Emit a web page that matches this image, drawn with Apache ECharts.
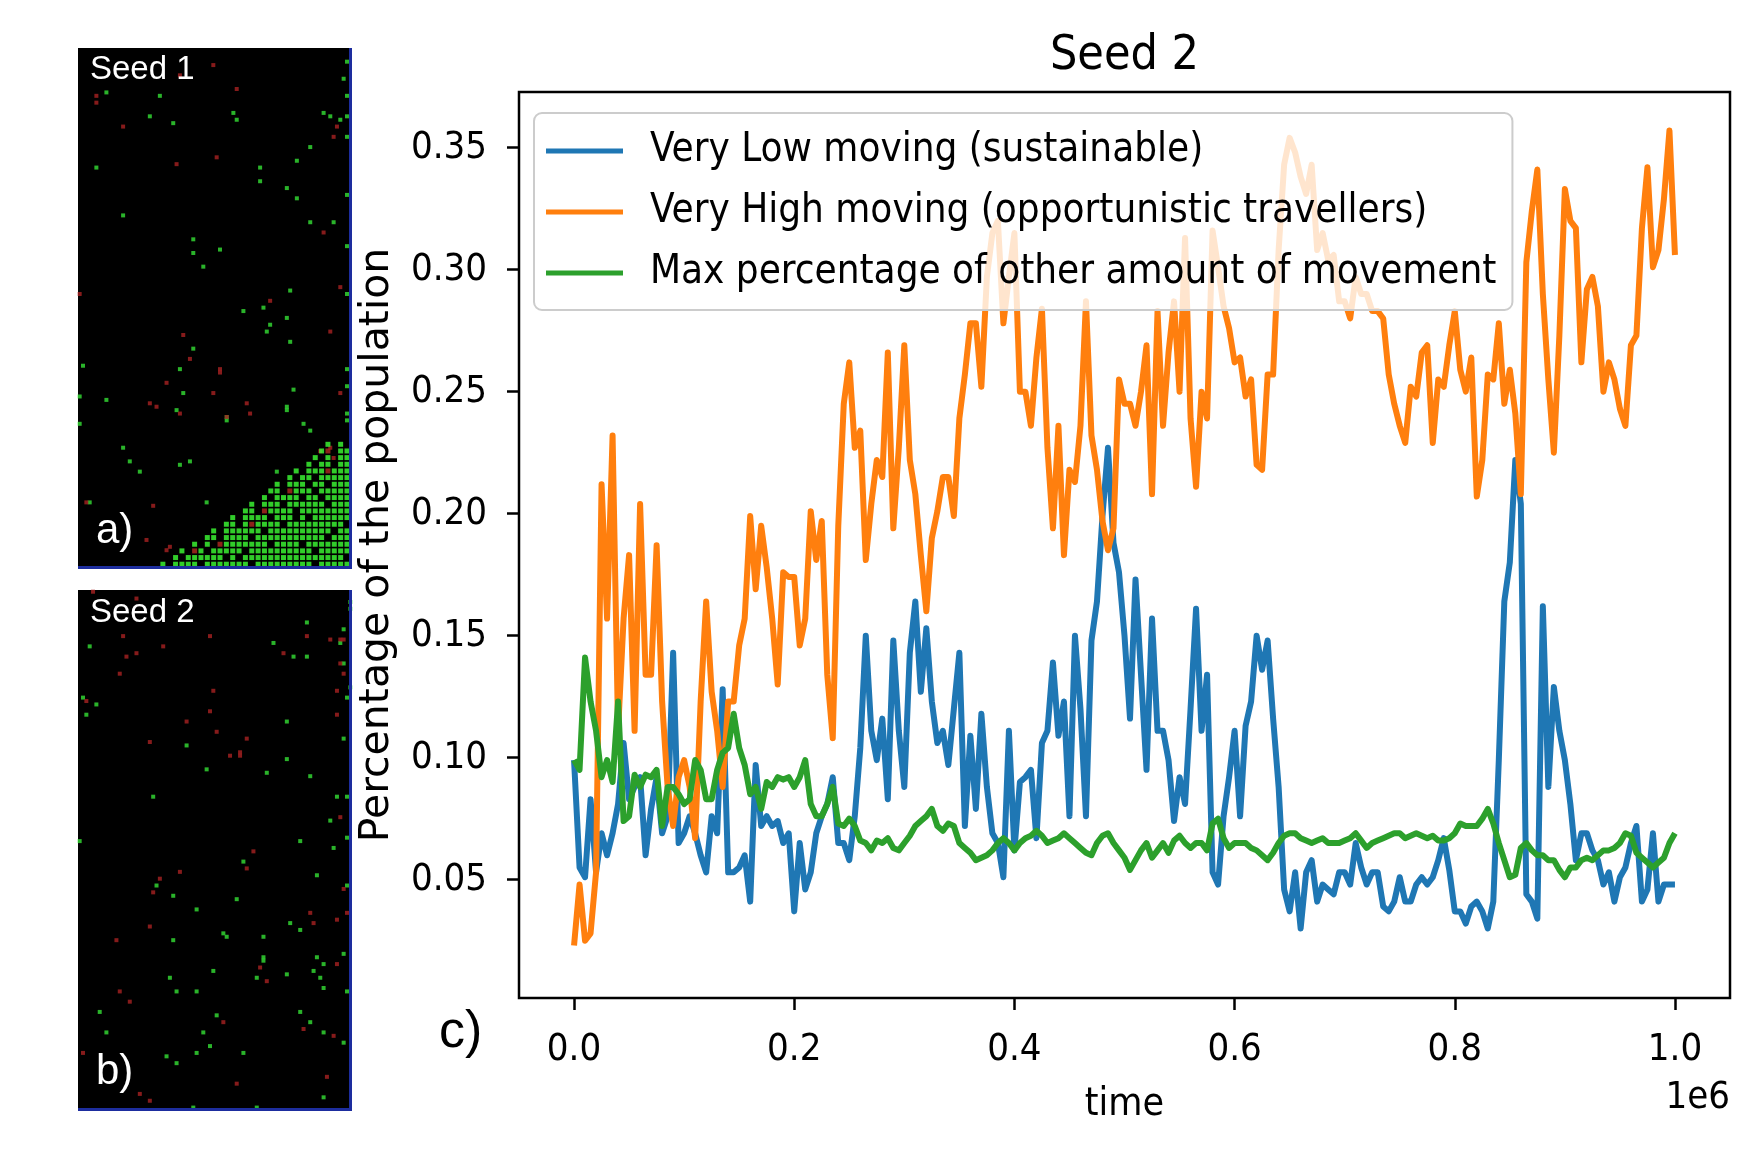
<!DOCTYPE html>
<html>
<head>
<meta charset="utf-8">
<title>Seed 2</title>
<script src="https://cdn.jsdelivr.net/npm/echarts@6/dist/echarts.min.js"></script>
<style>
    html, body { margin: 0; padding: 0; background: #fff; }
    #main { width: 1756px; height: 1155px; }
</style>
</head>
<body>
<div id="main"></div>
<script>
// time (in units of 1e6 steps)
var time = [
    0, 0.005, 0.01, 0.015, 0.02, 0.025, 0.03, 0.035, 0.04, 0.045,
    0.05, 0.055, 0.06, 0.065, 0.07, 0.075, 0.08, 0.085, 0.09, 0.095,
    0.1, 0.105, 0.11, 0.115, 0.12, 0.125, 0.13, 0.135, 0.14, 0.145,
    0.15, 0.155, 0.16, 0.165, 0.17, 0.175, 0.18, 0.185, 0.19, 0.195,
    0.2, 0.205, 0.21, 0.215, 0.22, 0.225, 0.23, 0.235, 0.24, 0.245,
    0.25, 0.255, 0.26, 0.265, 0.27, 0.275, 0.28, 0.285, 0.29, 0.295,
    0.3, 0.305, 0.31, 0.315, 0.32, 0.325, 0.33, 0.335, 0.34, 0.345,
    0.35, 0.355, 0.36, 0.365, 0.37, 0.375, 0.38, 0.385, 0.39, 0.395,
    0.4, 0.405, 0.41, 0.415, 0.42, 0.425, 0.43, 0.435, 0.44, 0.445,
    0.45, 0.455, 0.46, 0.465, 0.47, 0.475, 0.48, 0.485, 0.49, 0.495,
    0.5, 0.505, 0.51, 0.515, 0.52, 0.525, 0.53, 0.535, 0.54, 0.545,
    0.55, 0.555, 0.56, 0.565, 0.57, 0.575, 0.58, 0.585, 0.59, 0.595,
    0.6, 0.605, 0.61, 0.615, 0.62, 0.625, 0.63, 0.635, 0.64, 0.645,
    0.65, 0.655, 0.66, 0.665, 0.67, 0.675, 0.68, 0.685, 0.69, 0.695,
    0.7, 0.705, 0.71, 0.715, 0.72, 0.725, 0.73, 0.735, 0.74, 0.745,
    0.75, 0.755, 0.76, 0.765, 0.77, 0.775, 0.78, 0.785, 0.79, 0.795,
    0.8, 0.805, 0.81, 0.815, 0.82, 0.825, 0.83, 0.835, 0.84, 0.845,
    0.85, 0.855, 0.86, 0.865, 0.87, 0.875, 0.88, 0.885, 0.89, 0.895,
    0.9, 0.905, 0.91, 0.915, 0.92, 0.925, 0.93, 0.935, 0.94, 0.945,
    0.95, 0.955, 0.96, 0.965, 0.97, 0.975, 0.98, 0.985, 0.99, 0.995,
    1
];

// Very Low moving (sustainable)
var veryLow = [
    0.099, 0.055, 0.051, 0.083, 0.053, 0.069, 0.060, 0.069, 0.081, 0.106,
    0.083, 0.088, 0.092, 0.060, 0.079, 0.092, 0.069, 0.076, 0.143, 0.065,
    0.069, 0.076, 0.069, 0.060, 0.053, 0.076, 0.069, 0.128, 0.053, 0.053,
    0.055, 0.060, 0.041, 0.097, 0.072, 0.076, 0.072, 0.074, 0.065, 0.069,
    0.037, 0.065, 0.046, 0.053, 0.069, 0.076, 0.081, 0.092, 0.065, 0.065,
    0.058, 0.076, 0.104, 0.150, 0.111, 0.099, 0.116, 0.083, 0.148, 0.111,
    0.088, 0.143, 0.164, 0.127, 0.153, 0.123, 0.106, 0.111, 0.097, 0.120,
    0.143, 0.072, 0.109, 0.079, 0.118, 0.088, 0.069, 0.065, 0.051, 0.111,
    0.062, 0.090, 0.092, 0.095, 0.067, 0.106, 0.111, 0.139, 0.109, 0.123,
    0.076, 0.150, 0.120, 0.076, 0.148, 0.164, 0.199, 0.227, 0.188, 0.176,
    0.150, 0.116, 0.173, 0.134, 0.095, 0.157, 0.111, 0.111, 0.099, 0.074,
    0.092, 0.081, 0.120, 0.161, 0.111, 0.134, 0.053, 0.048, 0.076, 0.092,
    0.111, 0.076, 0.113, 0.123, 0.150, 0.136, 0.148, 0.116, 0.088, 0.046,
    0.037, 0.053, 0.030, 0.053, 0.058, 0.041, 0.048, 0.046, 0.044, 0.053,
    0.053, 0.048, 0.065, 0.055, 0.048, 0.053, 0.053, 0.039, 0.037, 0.041,
    0.051, 0.041, 0.041, 0.048, 0.051, 0.048, 0.051, 0.058, 0.067, 0.054,
    0.037, 0.037, 0.032, 0.039, 0.041, 0.037, 0.030, 0.041, 0.099, 0.164,
    0.180, 0.222, 0.204, 0.044, 0.041, 0.034, 0.162, 0.088, 0.129, 0.111,
    0.099, 0.081, 0.058, 0.069, 0.069, 0.062, 0.058, 0.048, 0.053, 0.041,
    0.051, 0.055, 0.065, 0.072, 0.041, 0.046, 0.069, 0.041, 0.048, 0.048,
    0.048
];

// Very High moving (opportunistic travellers)
var veryHigh = [
    0.023, 0.048, 0.025, 0.028, 0.053, 0.212, 0.157, 0.232, 0.111, 0.157,
    0.183, 0.111, 0.204, 0.134, 0.134, 0.187, 0.123, 0.088, 0.072, 0.092,
    0.099, 0.088, 0.067, 0.123, 0.164, 0.127, 0.111, 0.088, 0.123, 0.123,
    0.146, 0.157, 0.199, 0.169, 0.195, 0.178, 0.157, 0.130, 0.176, 0.174,
    0.174, 0.146, 0.157, 0.201, 0.181, 0.197, 0.134, 0.108, 0.195, 0.245,
    0.262, 0.227, 0.234, 0.181, 0.204, 0.222, 0.215, 0.266, 0.194, 0.227,
    0.269, 0.222, 0.208, 0.183, 0.160, 0.190, 0.201, 0.215, 0.215, 0.199,
    0.239, 0.257, 0.278, 0.278, 0.252, 0.297, 0.315, 0.320, 0.278, 0.297,
    0.315, 0.250, 0.250, 0.236, 0.264, 0.284, 0.227, 0.194, 0.236, 0.183,
    0.218, 0.213, 0.236, 0.287, 0.232, 0.218, 0.197, 0.185, 0.194, 0.255,
    0.245, 0.245, 0.236, 0.250, 0.269, 0.208, 0.283, 0.236, 0.266, 0.287,
    0.250, 0.313, 0.239, 0.211, 0.250, 0.239, 0.316, 0.301, 0.285, 0.276,
    0.262, 0.264, 0.248, 0.255, 0.220, 0.218, 0.257, 0.257, 0.308, 0.343,
    0.354, 0.348, 0.338, 0.331, 0.343, 0.308, 0.315, 0.304, 0.306, 0.287,
    0.287, 0.280, 0.297, 0.290, 0.290, 0.283, 0.283, 0.280, 0.257, 0.245,
    0.236, 0.229, 0.252, 0.248, 0.266, 0.269, 0.229, 0.255, 0.252, 0.269,
    0.283, 0.259, 0.250, 0.264, 0.207, 0.222, 0.257, 0.255, 0.278, 0.245,
    0.259, 0.241, 0.208, 0.303, 0.324, 0.341, 0.290, 0.255, 0.225, 0.273,
    0.333, 0.320, 0.317, 0.262, 0.292, 0.297, 0.285, 0.250, 0.262, 0.255,
    0.243, 0.236, 0.269, 0.273, 0.317, 0.342, 0.301, 0.308, 0.329, 0.357,
    0.306
];

// Max percentage of other amount of movement
var maxOther = [
    0.099, 0.095, 0.141, 0.123, 0.111, 0.092, 0.099, 0.090, 0.123, 0.074,
    0.076, 0.093, 0.088, 0.093, 0.092, 0.095, 0.072, 0.088, 0.088, 0.085,
    0.081, 0.083, 0.099, 0.095, 0.083, 0.083, 0.095, 0.102, 0.104, 0.118,
    0.104, 0.097, 0.085, 0.088, 0.079, 0.090, 0.088, 0.092, 0.091, 0.092,
    0.088, 0.092, 0.099, 0.081, 0.076, 0.076, 0.081, 0.088, 0.073, 0.072,
    0.075, 0.072, 0.066, 0.065, 0.062, 0.066, 0.065, 0.067, 0.063, 0.062,
    0.065, 0.068, 0.072, 0.074, 0.076, 0.079, 0.072, 0.070, 0.073, 0.072,
    0.065, 0.063, 0.061, 0.058, 0.059, 0.060, 0.062, 0.065, 0.067, 0.065,
    0.062, 0.065, 0.067, 0.068, 0.070, 0.068, 0.065, 0.066, 0.067, 0.069,
    0.067, 0.065, 0.063, 0.061, 0.060, 0.065, 0.068, 0.069, 0.065, 0.062,
    0.059, 0.054, 0.058, 0.062, 0.065, 0.059, 0.062, 0.065, 0.061, 0.066,
    0.068, 0.065, 0.063, 0.065, 0.065, 0.062, 0.073, 0.075, 0.067, 0.063,
    0.065, 0.065, 0.065, 0.063, 0.062, 0.060, 0.058, 0.061, 0.065, 0.068,
    0.069, 0.069, 0.067, 0.066, 0.065, 0.066, 0.067, 0.065, 0.065, 0.065,
    0.066, 0.067, 0.069, 0.066, 0.063, 0.065, 0.066, 0.067, 0.068, 0.069,
    0.069, 0.067, 0.068, 0.069, 0.068, 0.067, 0.068, 0.066, 0.066, 0.067,
    0.069, 0.073, 0.072, 0.072, 0.072, 0.075, 0.079, 0.073, 0.065, 0.058,
    0.051, 0.052, 0.063, 0.065, 0.062, 0.060, 0.060, 0.058, 0.058, 0.054,
    0.051, 0.055, 0.055, 0.058, 0.059, 0.058, 0.060, 0.062, 0.062, 0.063,
    0.065, 0.069, 0.068, 0.061, 0.059, 0.057, 0.055, 0.057, 0.059, 0.065,
    0.069
];

var seriesNames = [
    'Very Low moving (sustainable)',
    'Very High moving (opportunistic travellers)',
    'Max percentage of other amount of movement'
];
var seriesColors = ['#1f77b4', '#ff7f0e', '#2ca02c'];
var xTicks = [0, 0.2, 0.4, 0.6, 0.8, 1.0];
var yTicks = [0.05, 0.1, 0.15, 0.2, 0.25, 0.3, 0.35];

// snapshot panels: agent cells as [column, row] of the grid picture
var seed1Green = [[10,14],[26,15],[23,21],[30,23],[48,20],[49,22],[7,36],[15,50],[36,57],[36,61],[39,65],[44,60],
    [56,36],[56,40],[64,42],[67,45],[67,34],[71,30],[75,20],[77,21],[80,22],[81,10],[82,15],[71,52],[78,52],
    [65,72],[57,77],[51,78],[64,80],[59,82],[58,84],[65,87],[36,89],[32,95],[3,94],[33,102],[10,104],[31,107],
    [46,110],[46,109],[64,107],[64,106],[69,111],[71,113],[15,118],[17,122],[35,122],[32,123],[20,125],[40,134],
    [5,134],[61,125],[66,101],[2,103],[2,111],[82,73],[82,59],[82,44],[82,21],[82,27],[82,5],[82,100],[82,95],
    [82,110],[82,108]];
var seed1Red = [[7,15],[7,17],[15,24],[31,35],[43,33],[49,13],[42,6],[32,9],[75,55],[80,71],[77,84],[59,75],
    [33,85],[35,92],[44,95],[44,96],[28,99],[42,102],[23,105],[25,106],[52,105],[53,108],[46,109],[32,108],
    [2,73],[4,134],[24,135],[28,148],[29,147],[22,145],[80,102],[79,24],[78,27],[77,118],[74,119],[78,121]];
// dense colony in the lower right corner of seed 1 ('#' green, 'r' red)
var seed1Colony = [
    "..........................#.#.",
    ".........................#r.##",
    "........................#.#.##",
    ".......................#.##.##",
    ".....................#.###r###",
    "....................#.##.#####",
    "..................#.###.##.###",
    ".................##.r###.#####",
    "................#.####.##.####",
    "..............#.###.######.###",
    ".............##.r####.########",
    "...........#.####.###.#.######",
    "..........##.#r####.#########.",
    "........#.######.##########.##",
    ".......##.####.###########.###",
    ".....#.#.r#######.####.#######",
    "...#.r#.#####.##########.#####",
    "..#.######.#.################.",
    "#.####.#######.#########.#####"
];
var colonyOrigin = [26.9, 117];
var colonyStep = [1.9, 1.95];

var seed2Green = [[5,18],[3,33],[4,38],[7,35],[34,47],[40,54],[24,62],[60,17],[66,21],[70,21],[70,11],[64,40],
    [64,51],[58,55],[71,56],[79,62],[82,62],[77,69],[82,74],[78,77],[68,75],[51,81],[2,75],[25,88],[30,91],
    [37,95],[49,92],[73,85],[65,99],[68,101],[45,102],[46,103],[57,103],[30,104],[57,110],[57,109],[73,109],
    [75,111],[72,113],[74,115],[64,114],[55,115],[42,113],[29,115],[31,119],[37,119],[75,118],[82,119],[81,108],
    [81,45],[82,33],[83,30],[81,23],[83,7],[83,5],[80,17],[8,125],[10,131],[39,131],[43,126],[68,125],[71,128],
    [75,131],[81,134],[41,135],[37,137],[28,138],[31,140],[51,137],[75,150],[36,153],[55,153],[81,13],[82,88]];
var seed2Red = [[6,2],[19,4],[15,15],[16,21],[19,20],[27,18],[14,26],[4,34],[41,15],[63,20],[77,16],[80,16],
    [81,16],[80,23],[81,26],[79,31],[42,31],[41,37],[34,40],[43,43],[52,45],[47,50],[50,49],[50,50],[23,46],
    [54,78],[52,83],[32,84],[26,86],[24,90],[23,100],[13,104],[71,96],[72,99],[79,98],[82,96],[81,89],[80,68],
    [79,111],[56,112],[58,116],[17,122],[14,119],[45,128],[69,130],[78,132],[76,144],[49,146],[20,149],[23,151],
    [3,137],[79,38],[70,15]];

(function() {
    var FONT = '"DejaVu Sans Condensed", "DejaVu Sans", sans-serif';
    var myChart = echarts.init(document.getElementById('main'));

    function pairs(values) {
        return time.map(function(t, i) { return [t, values[i]]; });
    }

    function colonyCells(mark) {
        var out = [];
        seed1Colony.forEach(function(row, r) {
            for (var c = 0; c < row.length; c++) {
                if (row.charAt(c) === mark) {
                    out.push([colonyOrigin[0] + colonyStep[0] * c, colonyOrigin[1] + colonyStep[1] * r]);
                }
            }
        });
        return out;
    }

    function dots(name, data, axis, color, size) {
        return {
            name: name,
            type: 'scatter',
            xAxisIndex: axis,
            yAxisIndex: axis,
            data: data,
            symbol: 'rect',
            symbolSize: size,
            itemStyle: { color: color },
            silent: true
        };
    }

    function panelAxis(idx, min, max, inverse) {
        return { type: 'value', gridIndex: idx, min: min, max: max, inverse: inverse, show: false };
    }

    var lines = [veryLow, veryHigh, maxOther].map(function(values, i) {
        return {
            name: seriesNames[i],
            type: 'line',
            xAxisIndex: 0,
            yAxisIndex: 0,
            data: pairs(values),
            symbol: 'none',
            lineStyle: { width: 6, color: seriesColors[i], join: 'round' },
            itemStyle: { color: seriesColors[i] },
            silent: true
        };
    });

    var tickStyle = { color: '#000', fontSize: 38, fontFamily: FONT };

    var option = {
        animation: false,
        backgroundColor: '#fff',
        title: {
            text: 'Seed 2',
            left: 1124.5,
            top: 33,
            textAlign: 'center',
            padding: 0,
            textStyle: { color: '#000', fontSize: 48, fontWeight: 'normal', fontFamily: FONT }
        },
        legend: {
            data: seriesNames,
            orient: 'vertical',
            left: 534,
            top: 113,
            padding: [18, 16, 17, 12],
            itemWidth: 77,
            itemHeight: 5,
            itemGap: 21,
            icon: 'rect',
            selectedMode: false,
            backgroundColor: 'rgba(255,255,255,0.8)',
            borderColor: '#cccccc',
            borderWidth: 2,
            borderRadius: 8,
            textStyle: { color: '#000', fontSize: 40, lineHeight: 40, fontFamily: FONT, padding: [0, 0, 0, 22] }
        },
        grid: [
            { left: 519, top: 92, width: 1211, height: 906, show: true, borderColor: '#000', borderWidth: 2.5 },
            { left: 78, top: 48, width: 274, height: 521, show: true, backgroundColor: '#000', borderWidth: 0 },
            { left: 78, top: 590, width: 274, height: 521, show: true, backgroundColor: '#000', borderWidth: 0 }
        ],
        xAxis: [{
            type: 'value',
            gridIndex: 0,
            min: -0.05,
            max: 1.05,
            splitLine: { show: false },
            axisLine: { show: false, onZero: false },
            axisTick: { show: true, length: 12, lineStyle: { color: '#000', width: 2.5 }, customValues: xTicks },
            axisLabel: {
                customValues: xTicks,
                margin: 33,
                color: tickStyle.color, fontSize: tickStyle.fontSize, fontFamily: tickStyle.fontFamily,
                formatter: function(v) { return v.toFixed(1); }
            },
            name: 'time',
            nameLocation: 'middle',
            nameGap: 87,
            nameTextStyle: { color: '#000', fontSize: 39, fontFamily: FONT }
        }, panelAxis(1, 1.5, 83.5, false), panelAxis(2, 1.5, 83.5, false)],
        yAxis: [{
            type: 'value',
            gridIndex: 0,
            min: 0.0015,
            max: 0.3728,
            splitLine: { show: false },
            axisLine: { show: false, onZero: false },
            axisTick: { show: true, length: 12, lineStyle: { color: '#000', width: 2.5 }, customValues: yTicks },
            axisLabel: {
                customValues: yTicks,
                margin: 32,
                color: tickStyle.color, fontSize: tickStyle.fontSize, fontFamily: tickStyle.fontFamily,
                formatter: function(v) { return v.toFixed(2); }
            },
            name: 'Percentage of the population',
            nameLocation: 'middle',
            nameRotate: 90,
            nameGap: 121,
            nameTextStyle: { color: '#000', fontSize: 41, fontFamily: '"DejaVu Sans", sans-serif' }
        }, panelAxis(1, 1, 153.5, true), panelAxis(2, 1.5, 154, true)],
        graphic: [
            // blue frame strips of the snapshots
            { type: 'rect', z: 100, shape: { x: 349, y: 48, width: 3, height: 521 }, style: { fill: '#1d2d9e' } },
            { type: 'rect', z: 100, shape: { x: 78, y: 566, width: 274, height: 3 }, style: { fill: '#1d2d9e' } },
            { type: 'rect', z: 100, shape: { x: 349, y: 590, width: 3, height: 521 }, style: { fill: '#1d2d9e' } },
            { type: 'rect', z: 100, shape: { x: 78, y: 1108, width: 274, height: 3 }, style: { fill: '#1d2d9e' } },
            { type: 'text', z: 100, x: 90, y: 70, style: { text: 'Seed 1', fill: '#fff', font: '33px "Liberation Sans", Arial, sans-serif', verticalAlign: 'middle', textVerticalAlign: 'middle' } },
            { type: 'text', z: 100, x: 96, y: 531, style: { text: 'a)', fill: '#fff', font: '42px "Liberation Sans", Arial, sans-serif', verticalAlign: 'middle', textVerticalAlign: 'middle' } },
            { type: 'text', z: 100, x: 90, y: 613, style: { text: 'Seed 2', fill: '#fff', font: '33px "Liberation Sans", Arial, sans-serif', verticalAlign: 'middle', textVerticalAlign: 'middle' } },
            { type: 'text', z: 100, x: 96, y: 1072, style: { text: 'b)', fill: '#fff', font: '42px "Liberation Sans", Arial, sans-serif', verticalAlign: 'middle', textVerticalAlign: 'middle' } },
            { type: 'text', z: 100, x: 439, y: 1033, style: { text: 'c)', fill: '#000', font: '52px "Liberation Sans", Arial, sans-serif', verticalAlign: 'middle', textVerticalAlign: 'middle' } },
            { type: 'text', z: 100, x: 1730, y: 1098, style: { text: '1e6', fill: '#000', font: '38px ' + FONT, align: 'right', textAlign: 'right', verticalAlign: 'middle', textVerticalAlign: 'middle' } }
        ],
        series: lines.concat([
            dots('seed1-green', seed1Green, 1, '#34e034', 4),
            dots('seed1-red', seed1Red, 1, '#a82222', 4),
            dots('seed1-colony', colonyCells('#'), 1, '#3dff35', [5, 5]),
            dots('seed1-colony-red', colonyCells('r'), 1, '#b02a20', [5, 5]),
            dots('seed2-green', seed2Green, 2, '#34e034', 4),
            dots('seed2-red', seed2Red, 2, '#a82222', 4)
        ])
    };

    myChart.setOption(option);

    window.addEventListener("resize", function() {
        myChart.resize();
    })
})();
</script>
</body>
</html>
